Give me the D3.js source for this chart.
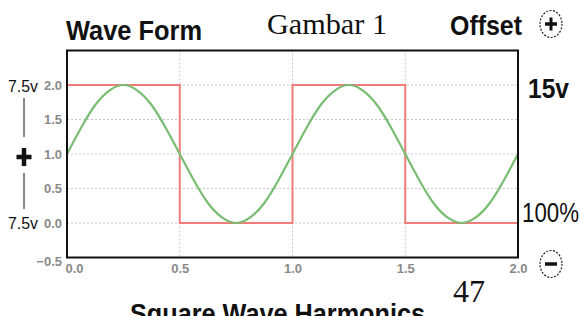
<!DOCTYPE html>
<html><head><meta charset="utf-8">
<script src="https://cdn.jsdelivr.net/npm/d3@7"></script>
<style>html,body{margin:0;padding:0;background:#fff;}svg{display:block;}</style>
</head><body>
<script>
// ---- data ----
const xTicks = [0, 0.5, 1.0, 1.5, 2.0];
const xTickLabels = ["0.0", "0.5", "1.0", "1.5", "2.0"];
const yTicks = [-0.5, 0, 0.5, 1.0, 1.5, 2.0];
const yTickLabels = ["\u22120.5", "0.0", "0.5", "1.0", "1.5", "2.0"];
const squareX = [0, 0, 0.5, 0.5, 1.0, 1.0, 1.5, 1.5, 2.0];
const squareY = [1, 2, 2, 0, 0, 2, 2, 0, 0];
const sineX = [0,0.0625,0.125,0.1875,0.25,0.3125,0.375,0.4375,0.5,0.5625,0.625,0.6875,0.75,0.8125,0.875,0.9375,1.0,
               1.0625,1.125,1.1875,1.25,1.3125,1.375,1.4375,1.5,1.5625,1.625,1.6875,1.75,1.8125,1.875,1.9375,2.0];
const sineY = [1,1.38,1.71,1.92,2,1.92,1.71,1.38,1,0.62,0.29,0.08,0,0.08,0.29,0.62,1,
               1.38,1.71,1.92,2,1.92,1.71,1.38,1,0.62,0.29,0.08,0,0.08,0.29,0.62,1];

const W = 580, H = 316;
const svg = d3.select("body").append("svg").attr("width", W).attr("height", H);
svg.append("rect").attr("width", W).attr("height", H).attr("fill", "#fff");

const x = d3.scaleLinear().domain([0, 2]).range([67, 518]);
const y = d3.scaleLinear().domain([-0.5, 2.5]).range([257.5, 50.5]);

// grid
const grid = svg.append("g");
grid.selectAll("line.h").data([0, 0.5, 1, 1.5, 2]).join("line")
  .attr("x1", x(0)).attr("x2", x(2)).attr("y1", d => y(d)).attr("y2", d => y(d))
  .attr("stroke", "#c8c8c8").attr("stroke-width", 1).attr("stroke-dasharray", "2,2");
grid.selectAll("line.v").data([0.5, 1, 1.5]).join("line")
  .attr("y1", y(2.5)).attr("y2", y(-0.5)).attr("x1", d => x(d)).attr("x2", d => x(d))
  .attr("stroke", "#c8c8c8").attr("stroke-width", 1).attr("stroke-dasharray", "2,2");

// series
const sq = squareX.map((v, i) => [v, squareY[i]]);
svg.append("path").datum(sq)
  .attr("d", d3.line().x(d => x(d[0])).y(d => y(d[1])))
  .attr("fill", "none").attr("stroke", "#f07c7c").attr("stroke-width", 2);
const sn = sineX.map((v, i) => [v, sineY[i]]);
svg.append("path").datum(sn)
  .attr("d", d3.line().curve(d3.curveNatural).x(d => x(d[0])).y(d => y(d[1])))
  .attr("fill", "none").attr("stroke", "#78bd72").attr("stroke-width", 2.2);

// frame
svg.append("rect").attr("x", x(0)).attr("y", y(2.5)).attr("width", x(2) - x(0)).attr("height", y(-0.5) - y(2.5))
  .attr("fill", "none").attr("stroke", "#111").attr("stroke-width", 2);

// axes
const xAxis = d3.axisBottom(x).tickValues(xTicks).tickFormat((d, i) => xTickLabels[i]).tickSize(0).tickPadding(6);
const gx = svg.append("g").attr("transform", `translate(0,${y(-0.5)})`).call(xAxis);
gx.select(".domain").remove();
gx.selectAll("text").attr("font-family", "Liberation Sans, Arial, sans-serif").attr("font-weight", "bold")
  .attr("font-size", 13).attr("fill", "#8a8a8a")
  .attr("dx", (d, i) => i === 0 ? 7 : 0);

const yAxis = d3.axisLeft(y).tickValues(yTicks).tickFormat((d, i) => yTickLabels[i]).tickSize(0).tickPadding(5);
const gy = svg.append("g").attr("transform", `translate(${x(0)},0)`).call(yAxis);
gy.select(".domain").remove();
gy.selectAll("text").attr("font-family", "Liberation Sans, Arial, sans-serif").attr("font-weight", "bold")
  .attr("font-size", 13).attr("fill", "#8a8a8a")
  .attr("dy", (d, i) => i === 0 ? "0.6em" : "0.32em");

// texts
function txt(s, tx, ty, size, opts = {}) {
  const t = svg.append("text")
    .attr("transform", `translate(${tx},${ty}) scale(1,${opts.sy || 1})`)
    .attr("font-family", opts.family || "Liberation Sans, Arial, sans-serif")
    .attr("font-weight", opts.weight || "normal")
    .attr("font-size", size).attr("fill", "#111")
    .attr("text-anchor", opts.anchor || "start")
    .text(s);
  if (opts.len) t.attr("textLength", opts.len).attr("lengthAdjust", "spacingAndGlyphs");
  return t;
}
txt("Wave Form", 66, 40, 25, {weight: "bold", sy: 1.12, len: 136});
txt("Gambar 1", 267, 34, 30, {family: "Liberation Serif, Times New Roman, serif", len: 120});
txt("Offset", 450, 35, 25, {weight: "bold", sy: 1.12, len: 72});
txt("15v", 528, 98, 25, {weight: "bold", sy: 1.12, len: 41});
txt("100%", 522, 222, 22.5, {sy: 1.25, len: 57});
txt("47", 453, 302, 32, {family: "Liberation Serif, Times New Roman, serif", len: 32});
txt("Square Wave Harmonics", 130, 323, 25, {weight: "bold", sy: 1.12, len: 295});

// left side labels
txt("7.5v", 8, 92, 16, {len: 30});
txt("7.5v", 8, 229, 16, {len: 30});
svg.append("line").attr("x1", 24).attr("x2", 24).attr("y1", 98).attr("y2", 137).attr("stroke", "#111").attr("stroke-width", 1);
svg.append("line").attr("x1", 24).attr("x2", 24).attr("y1", 173).attr("y2", 209).attr("stroke", "#111").attr("stroke-width", 1);
svg.append("line").attr("x1", 16.5).attr("x2", 31.5).attr("y1", 157).attr("y2", 157).attr("stroke", "#111").attr("stroke-width", 4.5);
svg.append("line").attr("x1", 24).attr("x2", 24).attr("y1", 148).attr("y2", 166).attr("stroke", "#111").attr("stroke-width", 4.5);

// plus / minus buttons
function btn(cx, cy, plus) {
  svg.append("ellipse").attr("cx", cx).attr("cy", cy).attr("rx", 11).attr("ry", 13.5)
    .attr("fill", "#fff").attr("stroke", "#222").attr("stroke-width", 1.2).attr("stroke-dasharray", "2,1.5");
  svg.append("line").attr("x1", cx - 6).attr("x2", cx + 6).attr("y1", cy).attr("y2", cy)
    .attr("stroke", "#111").attr("stroke-width", 3.5);
  if (plus) svg.append("line").attr("x1", cx).attr("x2", cx).attr("y1", cy - 6.5).attr("y2", cy + 6.5)
    .attr("stroke", "#111").attr("stroke-width", 3);
}
btn(551, 24, true);
btn(551, 264, false);
</script>
</body></html>
